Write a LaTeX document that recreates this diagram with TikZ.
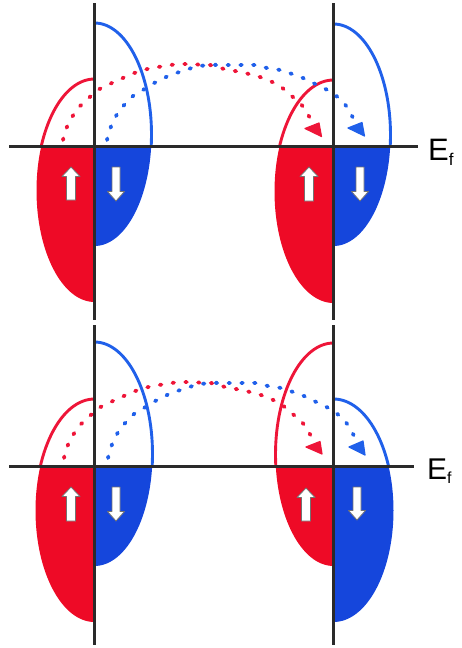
\documentclass[tikz,border=0pt]{standalone}
\usepackage{fontspec}
\setmainfont{Liberation Sans}
\definecolor{bandred}{HTML}{EE0A26}
\definecolor{bandblue}{HTML}{1546DC}
\definecolor{linered}{HTML}{EE1538}
\definecolor{lineblue}{HTML}{2060EA}
\definecolor{axisgray}{HTML}{2A2A2A}
\tikzset{
  axisline/.style={draw=axisgray,line width=2.6pt},
  bandline/.style={line width=2.9pt},
  dots/.style={line width=3.8pt,line cap=round,dash pattern=on 1.6pt off 11.2pt},
  headtip/.style={line width=1.2pt,line join=round},
  spinarrow/.style={fill=white,draw=black!55,line width=0.8pt,line join=round},
}
% half-filled density-of-states lobe: side(-1 left, +1 right), axis x, Ef y, top, bottom, rx, fill, line
\newcommand{\lobe}[8]{%
  \pgfmathsetmacro{\cy}{(#4+#5)/2}\pgfmathsetmacro{\ry}{(#5-#4)/2}%
  \pgfmathsetmacro{\far}{#2+#1*(#6+8)}%
  \begin{scope}\clip (#2,#3) rectangle (\far,#5+5);
    \fill[#7] (#2,\cy) ellipse [x radius=#6,y radius=\ry];
  \end{scope}
  \begin{scope}\clip (#2,#3) rectangle (\far,#4-5);
    \draw[#8,bandline] (#2,\cy) ellipse [x radius=#6,y radius=\ry];
  \end{scope}
}
\newcommand{\uparr}[3]{\draw[spinarrow] (#1,#2) -- (#1+9,#2+9.5) -- (#1+4.5,#2+9.5) -- (#1+4.5,#3) -- (#1-4.5,#3) -- (#1-4.5,#2+9.5) -- (#1-9,#2+9.5) -- cycle;}
\newcommand{\downarr}[3]{\draw[spinarrow] (#1,#3) -- (#1+8.5,#3-9.5) -- (#1+4,#3-9.5) -- (#1+4,#2) -- (#1-4,#2) -- (#1-4,#3-9.5) -- (#1-8.5,#3-9.5) -- cycle;}
\newcommand{\redpath}{\draw[dots,draw=linered] plot[smooth,tension=0.6] coordinates {(63,140) (66,129) (71,119) (76,111) (83,103) (91,96) (98,90) (107,85) (117,81) (127,76) (140,71) (152,68) (165,66) (179,64) (195,64.5) (210,65) (224,69) (235,71) (249,74) (260,77) (270,81) (280,86) (289,94) (298,101) (304,108) (310,118) (313,123)};}
\newcommand{\bluepath}{\draw[dots,draw=lineblue] plot[smooth,tension=0.6] coordinates {(107,140) (110,129) (114,120) (119,111) (126,103) (133,96) (143,90) (152,84) (161,80) (170,75) (183,71) (195,67) (209,65) (222,65) (238,65) (255,65) (267,68) (280,70) (292,74) (303,78) (313,83) (322,87) (332,93) (340,99) (347,107) (352,116) (355,122)};}
\begin{document}
\begin{tikzpicture}[x=1pt,y=-1pt]
\useasboundingbox (0,0) rectangle (461,648);
% top row
\lobe{-1}{94.5}{146.3}{79}{302}{58}{bandred}{linered}
\lobe{1}{94.5}{146.3}{23}{246}{57}{bandblue}{lineblue}
\lobe{-1}{333.5}{146.3}{80}{303}{59}{bandred}{linered}
\lobe{1}{333.5}{146.3}{24}{246}{57}{bandblue}{lineblue}
% bottom row
\lobe{-1}{94.5}{466.7}{399}{622}{59}{bandred}{linered}
\lobe{1}{94.5}{466.7}{342}{566}{58}{bandblue}{lineblue}
\lobe{-1}{333.5}{466.7}{343}{566}{58}{bandred}{linered}
\lobe{1}{333.5}{466.7}{399}{622}{60}{bandblue}{lineblue}
% axes
\draw[axisline] (94.5,3) -- (94.5,320);
\draw[axisline] (333.5,3) -- (333.5,320);
\draw[axisline] (94.5,325) -- (94.5,645);
\draw[axisline] (333.5,325) -- (333.5,645);
\draw[axisline] (9,146.3) -- (418,146.3);
\draw[axisline] (9,466.7) -- (414,466.7);
% dotted transfer paths, top
\redpath
\filldraw[headtip,draw=linered,fill=linered] (305,128.5) -- (319,123) -- (321.5,136.5) -- cycle;
\bluepath
\filldraw[headtip,draw=lineblue,fill=lineblue] (348,128) -- (362,122.5) -- (364.5,136) -- cycle;
% dotted transfer paths, bottom
\begin{scope}[yshift=-318pt,xshift=1pt]
\redpath
\bluepath
\end{scope}
\filldraw[headtip,draw=linered,fill=linered] (306,447) -- (320,441.5) -- (322,454) -- cycle;
\filldraw[headtip,draw=lineblue,fill=lineblue] (349,447) -- (363,441) -- (365,455) -- cycle;
% spin arrows
\uparr{71}{167}{200}
\downarr{116}{167}{201}
\uparr{309}{167}{201}
\downarr{360}{167}{201}
\uparr{71}{487}{521}
\downarr{116}{487}{521}
\uparr{306}{488}{521}
\downarr{357}{487}{520}
% labels
\node[anchor=base west,inner sep=0pt] (ef1) at (428,160) {\fontsize{31}{31}\selectfont E\raisebox{-5pt}{\fontsize{17}{17}\selectfont f}};
\node[anchor=base west,inner sep=0pt] (ef2) at (427,479) {\fontsize{30}{30}\selectfont E\raisebox{-4pt}{\fontsize{16}{16}\selectfont f}};
\end{tikzpicture}
\end{document}
